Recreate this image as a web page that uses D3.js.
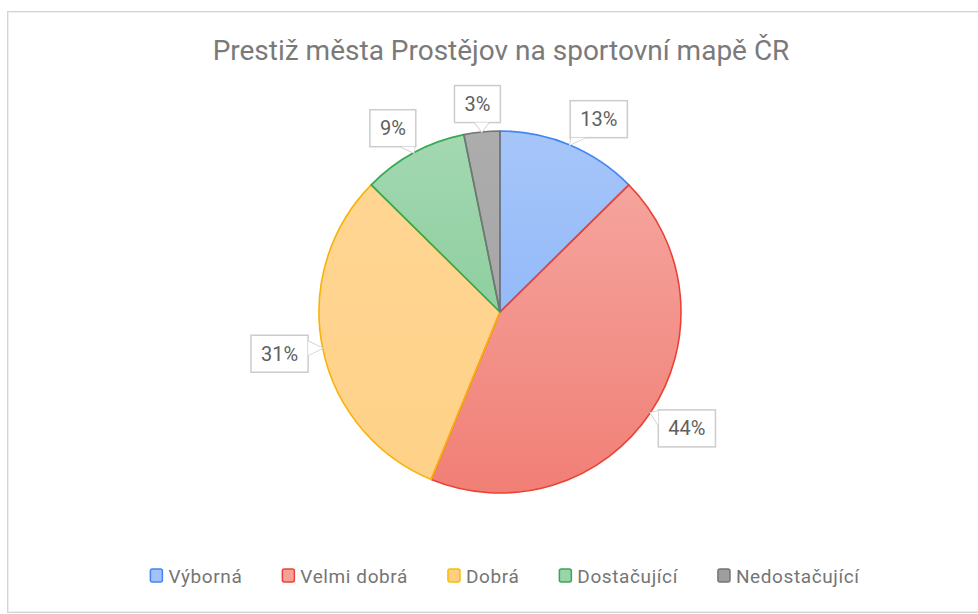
<!DOCTYPE html>
<html>
<head>
<meta charset="utf-8">
<script src="https://cdn.jsdelivr.net/npm/d3@7"></script>
<style>
  body { margin: 0; background: #fff; }
  svg { display: block; font-family: Roboto, "Noto Sans", sans-serif; }
</style>
</head>
<body>
<svg id="chart" width="978" height="614"></svg>
<script>
// chart data
var categories = ["Výborná", "Velmi dobrá", "Dobrá", "Dostačující", "Nedostačující"];
var values = [12.6, 43.6, 31.2, 9.4, 3.2];
var colors = ["#4285F4", "#EA4335", "#FBBC04", "#34A853", "#757575"];
var fillColors = ["#4285F4", "#EA4335", "#FF9E00", "#34A853", "#757575"];
var chartTitle = "Prestiž města Prostějov na sportovní mapě ČR";

var svg = d3.select("#chart");
var cx = 500, cy = 312, radius = 181;

/** outer frame **/
svg.append("rect")
    .attr("x", 7.5).attr("y", 11.5)
    .attr("width", 1000).attr("height", 601)
    .attr("fill", "none").attr("stroke", "#d4d4d4");
svg.append("rect")
    .attr("x", 8.5).attr("y", 12.5)
    .attr("width", 1000).attr("height", 599)
    .attr("fill", "none").attr("stroke", "#eeeeee");

/** title **/
svg.append("text")
    .attr("x", cx + 1).attr("y", 60)
    .attr("text-anchor", "middle")
    .style("font-size", "28px")
    .style("fill", "#7a7a7a")
    .text(chartTitle);

/** gradients, one per slice (local coords of the pie group) **/
var gradTop = [0.47, 0.45, 0.42, 0.45, 0.6];
var gradBot = [0.66, 0.68, 0.47, 0.66, 0.68];
var defs = svg.append("defs");
fillColors.forEach(function (c, i) {
    var g = defs.append("linearGradient")
        .attr("id", "grad" + i)
        .attr("gradientUnits", "userSpaceOnUse")
        .attr("x1", 0).attr("y1", -radius)
        .attr("x2", 0).attr("y2", radius);
    g.append("stop").attr("offset", "0%").attr("stop-color", c).attr("stop-opacity", gradTop[i]);
    g.append("stop").attr("offset", "100%").attr("stop-color", c).attr("stop-opacity", gradBot[i]);
});

var data = categories.map(function (d, i) { return {name: d, value: values[i], index: i}; });
var total = d3.sum(values);

var pie = d3.pie().value(function (d) { return d.value; }).sort(null);
var arc = d3.arc().innerRadius(0).outerRadius(radius);
var arcs = pie(data);

var pieG = svg.append("g").attr("transform", "translate(" + cx + "," + cy + ")");
pieG.append("circle").attr("r", radius).attr("fill", "#fff");
pieG.selectAll("path.slice")
    .data(arcs)
    .enter()
    .append("path")
    .attr("class", "slice")
    .attr("d", arc)
    .attr("fill", function (d) { return "url(#grad" + d.data.index + ")"; })
    .attr("stroke", function (d) { return d.data.index === 2 ? "#F9B208" : colors[d.data.index]; })
    .attr("stroke-width", 1.6)
    .attr("stroke-linejoin", "round");

/** callout labels **/
var labelG = svg.append("g");
arcs.forEach(function (d) {
    var mid = (d.startAngle + d.endAngle) / 2;
    var ux = Math.sin(mid), uy = -Math.cos(mid);
    var ax = cx + radius * ux, ay = cy + radius * uy;
    var bx = ax + ux * 44 + (ux > 0 && uy < 0 ? 12 : 0), by = ay + uy * 28;
    var txt = Math.round(d.data.value / total * 100) + "%";

    var g = labelG.append("g");
    var t = g.append("text")
        .attr("x", bx).attr("y", by)
        .attr("text-anchor", "middle")
        .attr("dominant-baseline", "central")
        .style("font-size", "20px")
        .style("fill", "#5f5f5f")
        .text(txt);
    var w = t.node().getComputedTextLength() + 20, h = 37;
    var x0 = bx - w / 2, x1 = bx + w / 2, y0 = by - h / 2, y1 = by + h / 2;

    // tail base on the side facing the anchor
    var p1, p2, tw = 7;
    if (ay > y1 || ay < y0) {
        var ey = ay > y1 ? y1 : y0;
        var mx = Math.max(x0 + tw + 1, Math.min(x1 - tw - 1, ax));
        p1 = [mx - tw, ey]; p2 = [mx + tw, ey];
    } else {
        var ex = ax > x1 ? x1 : x0;
        var my = Math.max(y0 + tw + 1, Math.min(y1 - tw - 1, ay));
        p1 = [ex, my - tw]; p2 = [ex, my + tw];
    }
    var tri = "M" + p1 + "L" + ax + "," + ay + "L" + p2 + "Z";
    g.insert("path", "text").attr("d", tri)
        .attr("fill", "#fff").attr("stroke", "#cccccc").attr("stroke-width", 1.5);
    g.insert("rect", "text")
        .attr("x", x0).attr("y", y0).attr("width", w).attr("height", h)
        .attr("fill", "#fff").attr("stroke", "#cccccc").attr("stroke-width", 1.5);
    g.insert("path", "text").attr("d", tri).attr("fill", "#fff");
});

/** legend **/
var legend = svg.append("g");
var items = legend.selectAll("g")
    .data(categories)
    .enter()
    .append("g");
items.append("rect")
    .attr("width", 12).attr("height", 13)
    .attr("rx", 2).attr("y", -7)
    .attr("fill", function (d, i) { return d3.interpolateRgb("#fff", fillColors[i])(i === 4 ? 0.7 : 0.5); })
    .attr("stroke", function (d, i) { return colors[i]; })
    .attr("stroke-width", 1.5);
items.append("text")
    .attr("x", 18).attr("y", 0)
    .attr("dominant-baseline", "central")
    .style("font-size", "19px")
    .style("letter-spacing", "0.6px")
    .style("fill", "#757575")
    .text(function (d) { return d; });
var offs = [], pos = 0, gap = 40;
items.each(function () {
    offs.push(pos);
    pos += 18 + d3.select(this).select("text").node().getComputedTextLength() + gap;
});
var legendW = pos - gap;
var lx = 505 - legendW / 2;
items.attr("transform", function (d, i) { return "translate(" + (lx + offs[i]) + ",576)"; });
</script>
</body>
</html>
